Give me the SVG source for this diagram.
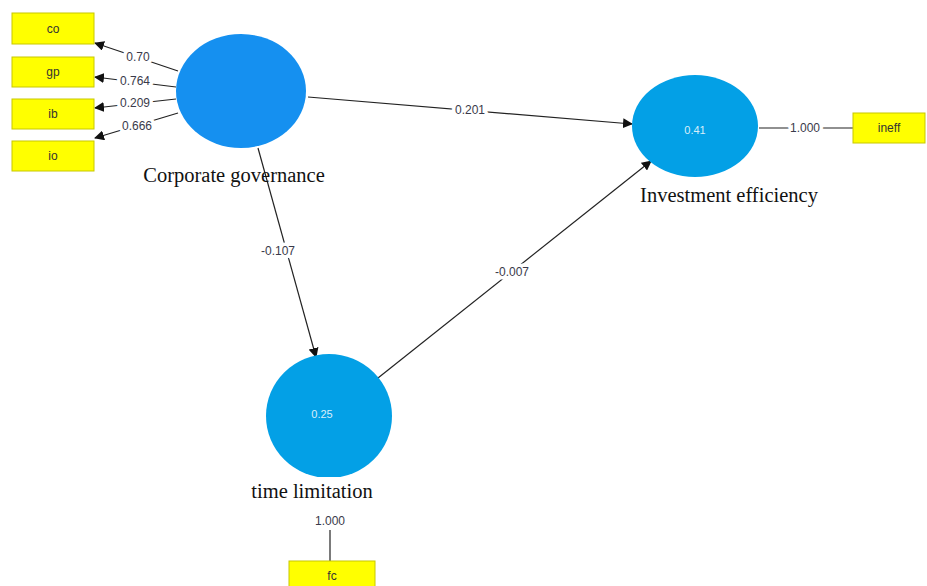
<svg xmlns="http://www.w3.org/2000/svg" width="927" height="586" viewBox="0 0 927 586">
<defs>
<marker id="ah" markerWidth="10" markerHeight="10" refX="9" refY="5" orient="auto" markerUnits="userSpaceOnUse">
<path d="M0,0 L10,5 L0,10 Z" fill="#111"/>
</marker>
<clipPath id="tlclip"><rect x="0" y="0" width="927" height="477"/></clipPath>
</defs>
<style>
.box{fill:#FFFF00;stroke:#C8C800;stroke-width:1}
.bt{font-family:"Liberation Sans",Arial,sans-serif;font-size:12px;fill:#333;text-anchor:middle}
.lbl{font-family:"Liberation Sans",Arial,sans-serif;font-size:12px;fill:#3a3a4a;text-anchor:middle;stroke:#fff;stroke-width:7px;paint-order:stroke;stroke-linejoin:round}
.nm{font-family:"Liberation Serif","Times New Roman",serif;font-size:20.5px;fill:#111;text-anchor:middle}
.val{font-family:"Liberation Sans",Arial,sans-serif;font-size:11px;fill:#d8eefa;text-anchor:middle}
.ln{stroke:#222;stroke-width:1.2;fill:none}
.ar{stroke:#222;stroke-width:1.2;fill:none;marker-end:url(#ah)}
</style>
<rect width="927" height="586" fill="#fff"/>
<g id="connectors">
<line class="ar" x1="178" y1="71" x2="95" y2="43"/>
<line class="ar" x1="176" y1="87" x2="95" y2="77"/>
<line class="ar" x1="176" y1="99" x2="95" y2="108"/>
<line class="ar" x1="178" y1="113" x2="95" y2="138"/>
<line class="ar" x1="308" y1="97" x2="632" y2="124"/>
<line class="ar" x1="258" y1="148" x2="316" y2="357"/>
<line class="ar" x1="378" y1="378" x2="651" y2="161"/>
<line class="ln" x1="759" y1="128" x2="853" y2="128"/>
<line class="ln" x1="330" y1="530" x2="330" y2="562"/>
<text class="lbl" x="138" y="61">0.70</text>
<text class="lbl" x="135" y="85">0.764</text>
<text class="lbl" x="135" y="107">0.209</text>
<text class="lbl" x="137" y="130">0.666</text>
<text class="lbl" x="470" y="114">0.201</text>
<text class="lbl" x="278" y="255">-0.107</text>
<text class="lbl" x="512" y="276">-0.007</text>
<text class="lbl" x="805" y="132">1.000</text>
<text class="lbl" x="330" y="525">1.000</text>
</g>
<g id="co"><rect class="box" x="12" y="13" width="82" height="31"/><text class="bt" x="53" y="33">co</text></g>
<g id="gp"><rect class="box" x="12" y="57" width="82" height="30"/><text class="bt" x="53" y="76">gp</text></g>
<g id="ib"><rect class="box" x="12" y="99" width="82" height="30"/><text class="bt" x="53" y="118">ib</text></g>
<g id="io"><rect class="box" x="12" y="141" width="82" height="30"/><text class="bt" x="53" y="160">io</text></g>
<g id="ineff"><rect class="box" x="853" y="113" width="72" height="30"/><text class="bt" x="889" y="132">ineff</text></g>
<g id="fc"><rect class="box" x="289" y="561" width="86" height="26"/><text class="bt" x="332" y="580">fc</text></g>
<g id="corporate-governance">
<ellipse cx="241" cy="91" rx="65" ry="57" fill="#1590F0"/>
<text class="nm" x="234" y="182">Corporate governance</text>
</g>
<g id="investment-efficiency">
<ellipse cx="695" cy="126" rx="63" ry="51" fill="#03A0E6"/>
<text class="val" x="695" y="134">0.41</text>
<text class="nm" x="729" y="202">Investment efficiency</text>
</g>
<g id="time-limitation">
<ellipse cx="329" cy="416" rx="63" ry="62" fill="#03A0E6" clip-path="url(#tlclip)"/>
<text class="val" x="322" y="418">0.25</text>
<text class="nm" x="312" y="498">time limitation</text>
</g>
</svg>
